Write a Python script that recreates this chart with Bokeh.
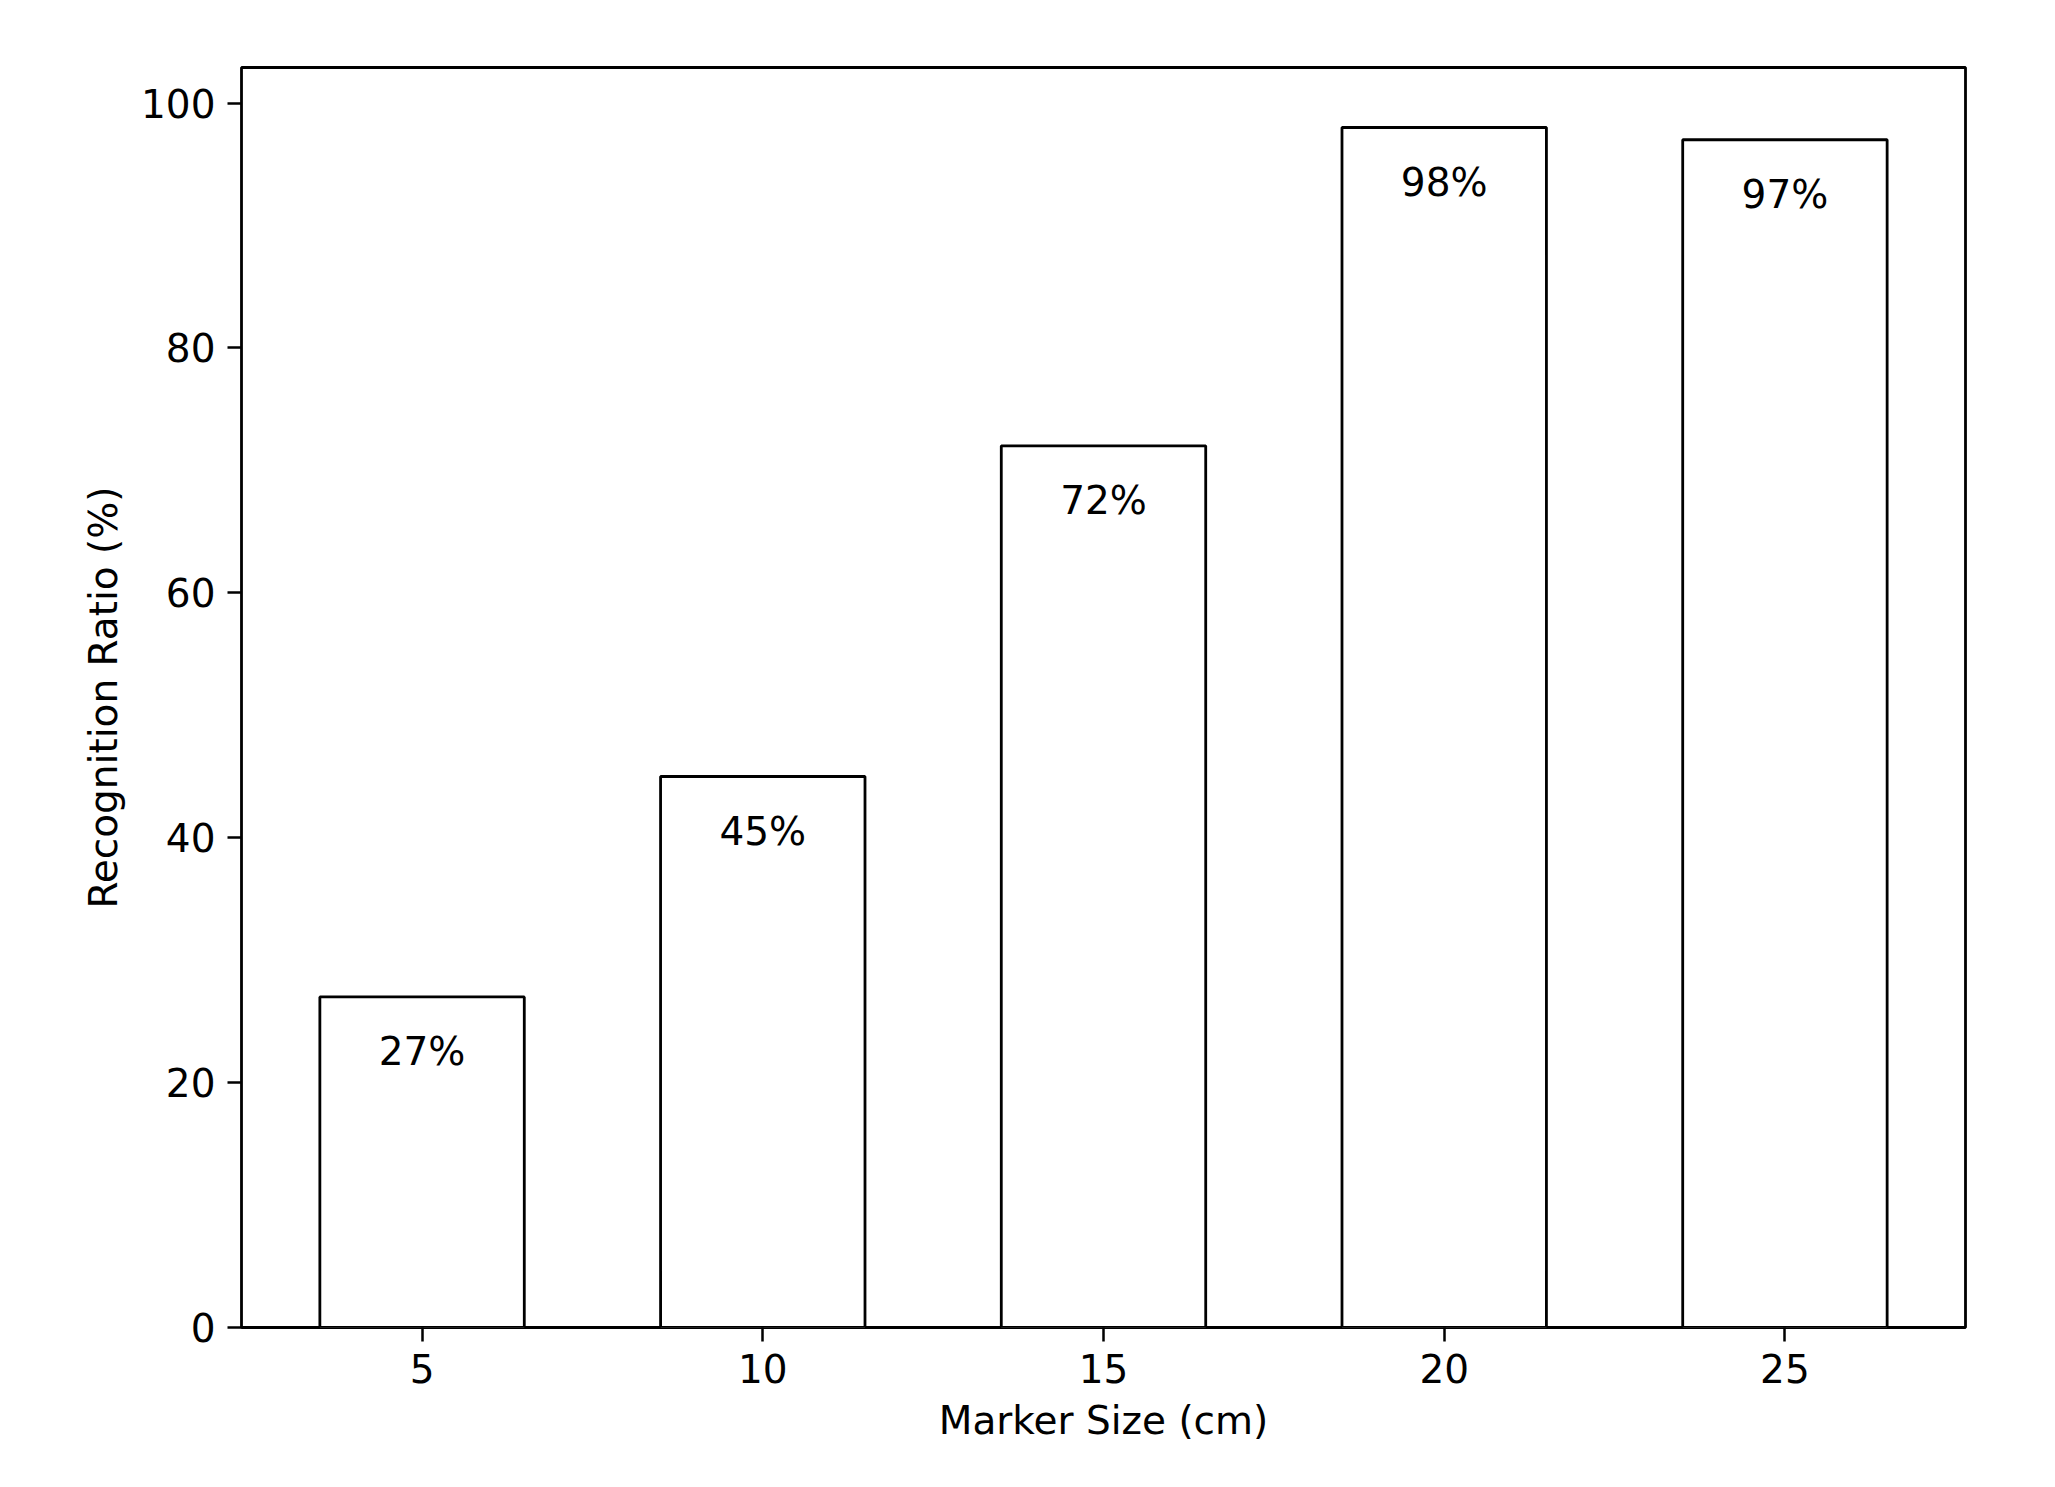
from bokeh.plotting import figure
from bokeh.models import Range1d, FixedTicker, ColumnDataSource
from bokeh.core.properties import value
from bokeh.embed import file_html
from bokeh.resources import INLINE

sizes = [5, 10, 15, 20, 25]
ratios = [27, 45, 72, 98, 97]
labels = [f"{r}%" for r in ratios]
x_ticks = [5, 10, 15, 20, 25]
y_ticks = [0, 20, 40, 60, 80, 100]

FONT = "DejaVu Sans"
FS = "39px"

p = figure(
    output_backend="svg", toolbar_location=None,
    frame_width=1724, frame_height=1260,
    min_border_left=241, min_border_top=67, min_border_right=60, min_border_bottom=130,
    x_range=Range1d(2.35, 27.65), y_range=Range1d(0, 102.9),
    background_fill_color="white", border_fill_color="white",
)
p.xgrid.visible = False
p.ygrid.visible = False
p.outline_line_color = "black"
p.outline_line_width = 2.8
p.outline_line_alpha = 1.0

src = ColumnDataSource(dict(x=sizes, top=ratios, lab=labels,
                            ly=[r - 4.5 for r in ratios]))
p.vbar(x="x", top="top", width=3, bottom=0, source=src,
       fill_color="white", line_color="black", line_width=2.8)
p.text(x="x", y="ly", text="lab", source=src, text_align="center",
       text_baseline="alphabetic", text_font=value(FONT), text_font_size=FS,
       text_color="black")

for ax in (p.xaxis[0], p.yaxis[0]):
    ax.axis_line_color = None
    ax.major_tick_in = 0
    ax.major_tick_out = 14
    ax.major_tick_line_width = 2.5
    ax.major_tick_line_color = "black"
    ax.minor_tick_line_color = None
    ax.major_label_text_font = FONT
    ax.major_label_text_font_size = FS
    ax.major_label_text_color = "black"
    ax.axis_label_text_font = FONT
    ax.axis_label_text_font_size = FS
    ax.axis_label_text_font_style = "normal"
    ax.axis_label_text_color = "black"

p.xaxis[0].ticker = FixedTicker(ticks=x_ticks)
p.yaxis[0].ticker = FixedTicker(ticks=y_ticks)
p.xaxis[0].axis_label = "Marker Size (cm)"
p.yaxis[0].axis_label = "Recognition Ratio (%)"
p.xaxis[0].major_label_standoff = 12
p.yaxis[0].major_label_standoff = 12
p.xaxis[0].axis_label_standoff = 12
p.yaxis[0].axis_label_standoff = 12

open("out.html", "w").write(file_html(p, INLINE))
